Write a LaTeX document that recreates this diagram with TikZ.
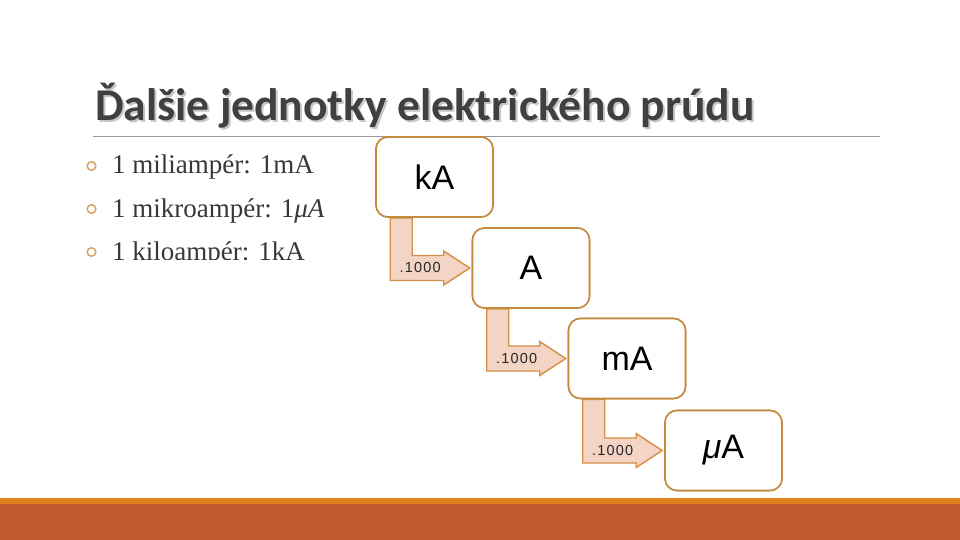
\documentclass[tikz,border=0pt]{standalone}
\usepackage{fontspec}
\setmainfont{Liberation Serif}
\newfontfamily\titlefont{Carlito}
\newfontfamily\boxfont{Liberation Sans}
\newfontfamily\lblfont[LetterSpace=8]{Liberation Sans}
\newfontfamily\bulfont{Liberation Serif}
\usetikzlibrary{calc}
\definecolor{boxline}{HTML}{C48A3E}
\definecolor{arrfill}{HTML}{F4D4C4}
\definecolor{arrline}{HTML}{D48F45}
\definecolor{titlegray}{HTML}{404040}
\definecolor{barorange}{HTML}{E0821C}
\definecolor{bardark}{HTML}{BE5A2B}
\definecolor{bulletc}{HTML}{D8A268}
\tikzset{
  unitbox/.style={draw=boxline, line width=1.6pt, fill=white, rounded corners=12pt,
    minimum width=117pt, minimum height=80pt, inner sep=0pt,
    font=\boxfont\fontsize{34}{40}\selectfont},
  bentarrow/.style={draw=arrline, line width=1.4pt, fill=arrfill, line join=miter},
  arrlabel/.style={font=\lblfont\fontsize{14.5}{16}\selectfont, inner sep=0pt, text=black!85},
  bullettext/.style={anchor=base west, inner sep=0pt, text=black!78,
    font=\bulfont\fontsize{27}{30}\selectfont},
  bulletring/.style={draw=bulletc, line width=1.5pt},
  titletext/.style={anchor=base west, inner sep=0pt, font=\titlefont\bfseries\fontsize{45.5}{50}\selectfont},
}
\newcommand{\bentarr}[3]{%
  % #1 from node, #2 to node, #3 name of label node
  \path let \p1=(#1.south west), \p2=(#2.west) in
    coordinate (#3a) at (\x1+15pt,\y1)
    coordinate (#3b) at (\x1+37pt,\y1)
    coordinate (#3t) at (\x2-2pt,\y2);
  \draw[bentarrow] let \p1=(#3a), \p2=(#3b), \p3=(#3t) in
    (\x1,\y1) -- (\x2,\y1) -- (\x2,\y3+12.5pt) -- (\x3-26pt,\y3+12.5pt)
    -- (\x3-26pt,\y3+17pt) -- (\p3) -- (\x3-26pt,\y3-17pt)
    -- (\x3-26pt,\y3-12.5pt) -- (\x1,\y3-12.5pt) -- cycle;
  \path let \p1=(#3a), \p3=(#3t) in
    node[arrlabel] (#3) at (\x1+30pt,\y3) {.1000};
}
\begin{document}
\begin{tikzpicture}[x=1pt,y=-1pt]
\useasboundingbox (0,0) rectangle (960,540);
\fill[white] (0,0) rectangle (960,540);
% title with shadow
\node[titletext, text=black!22] (titleshadow) at (97,123) {Ďalšie jednotky elektrického prúdu};
\node[titletext, text=titlegray] (title) at (95,121) {Ďalšie jednotky elektrického prúdu};
\draw[black!40, line width=0.9pt] (93,136.5) -- (880,136.5);
% bullets
\begin{scope}
\clip (80,140) rectangle (370,259);
\draw[bulletring] (91.5,166) circle (4.3);
\node[bullettext] (b1) at (112,174) {1 miliampér: 1mA};
\draw[bulletring] (91.5,209) circle (4.3);
\node[bullettext] (b2) at (112,217) {1 mikroampér: 1\textit{μA}};
\draw[bulletring] (91.5,252) circle (4.3);
\node[bullettext] (b3) at (112,260) {1 kiloampér: 1kA};
\end{scope}
% boxes
\node[unitbox] (kA) at (434.5,177) {kA};
\node[unitbox] (A) at (531,268) {A};
\node[unitbox] (mA) at (627,358.5) {mA};
\node[unitbox] (uA) at (723.5,450.5) {\textit{μ}A};
% arrows
\bentarr{kA}{A}{l1}
\bentarr{A}{mA}{l2}
\bentarr{mA}{uA}{l3}
% redraw boxes on top of arrow tails
\node[unitbox] at (kA) {kA};
\node[unitbox] at (A) {A};
\node[unitbox] at (mA) {mA};
\node[unitbox] at (uA) {\textit{μ}A};
% bottom bars
\fill[barorange] (0,498) rectangle (960,504);
\fill[bardark] (0,504) rectangle (960,540);
\end{tikzpicture}
\end{document}
